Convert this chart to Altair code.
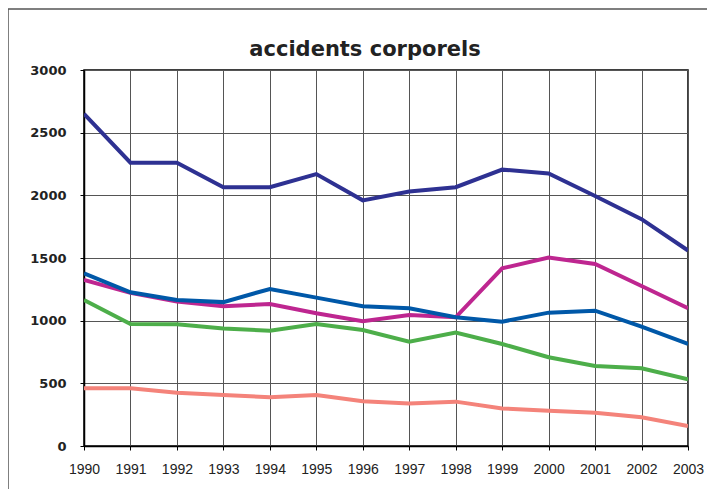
import altair as alt
import pandas as pd

years = list(range(1990, 2004))
navy = [2650, 2260, 2260, 2065, 2065, 2170, 1960, 2030, 2065, 2205, 2175, 1995, 1810, 1560]
magenta = [1325, 1222, 1152, 1115, 1133, 1059, 995, 1045, 1027, 1418, 1503, 1452, 1277, 1099]
blue = [1378, 1226, 1165, 1148, 1253, 1184, 1115, 1099, 1027, 992, 1064, 1080, 952, 814]
green = [1165, 974, 972, 937, 920, 974, 925, 833, 905, 814, 708, 638, 620, 532]
salmon = [460, 460, 425, 407, 389, 407, 357, 340, 354, 300, 282, 266, 229, 160]

series = ["s1", "s2", "s3", "s4", "s5"]
colors = ["#2E3192", "#BE2690", "#0058A8", "#4DAE4A", "#F4837A"]
values = [navy, magenta, blue, green, salmon]

rows = []
for name, vals in zip(series, values):
    for y, v in zip(years, vals):
        rows.append({"year": y, "value": v, "series": name})
df = pd.DataFrame(rows)

W, H = 604, 376

lines = alt.Chart(df).mark_line(strokeWidth=4, clip=True).encode(
    x=alt.X("year:Q", scale=alt.Scale(domain=[1990, 2003], nice=False, zero=False),
            axis=alt.Axis(values=years, format="d", title=None, grid=True,
                          labelOverlap=False, labelFlush=False,
                          gridColor="#555555", gridWidth=1, gridOpacity=1,
                          domainColor="#000000", domainWidth=1.5,
                          tickColor="#000000", tickSize=4,
                          labelFont="Liberation Sans", labelFontSize=14,
                          labelColor="#222222", labelPadding=12)),
    y=alt.Y("value:Q", scale=alt.Scale(domain=[0, 3000], nice=False),
            axis=alt.Axis(values=[0, 500, 1000, 1500, 2000, 2500, 3000], title=None,
                          format="d", labelOverlap=False, labelFlush=False,
                          grid=True, gridColor="#555555", gridWidth=1, gridOpacity=1,
                          domainColor="#000000", domainWidth=1.5,
                          tickColor="#000000", tickSize=4,
                          labelFont="DejaVu Sans", labelFontWeight="bold",
                          labelFontSize=13, labelColor="#222222", labelPadding=14)),
    color=alt.Color("series:N", scale=alt.Scale(domain=series, range=colors), legend=None),
    detail="series:N",
)

one = pd.DataFrame({"a": [0]})
frame_top = alt.Chart(one).mark_rule(stroke="#555555", strokeWidth=1.5).encode(
    x=alt.value(-76), x2=alt.value(W + 19), y=alt.value(-61)
)
frame_left = alt.Chart(one).mark_rule(stroke="#555555", strokeWidth=1.5).encode(
    x=alt.value(-76), y=alt.value(-61), y2=alt.value(H + 43)
)

title = alt.Chart(pd.DataFrame({"t": ["accidents corporels"]})).mark_text(
    font="DejaVu Sans", fontSize=21, fontWeight="bold", color="#222222",
    align="center", baseline="alphabetic"
).encode(text="t:N", x=alt.value(W / 2 - 21), y=alt.value(-14))

chart = alt.layer(frame_top, frame_left, lines, title).properties(
    width=W, height=H,
    padding={"left": 76, "top": 62, "right": 19, "bottom": 43},
    autosize=alt.AutoSizeParams(type="none"),
).configure_view(stroke="#000000", strokeWidth=1.5)

chart.save("out.html", embed_options={"renderer": "svg", "actions": False})
